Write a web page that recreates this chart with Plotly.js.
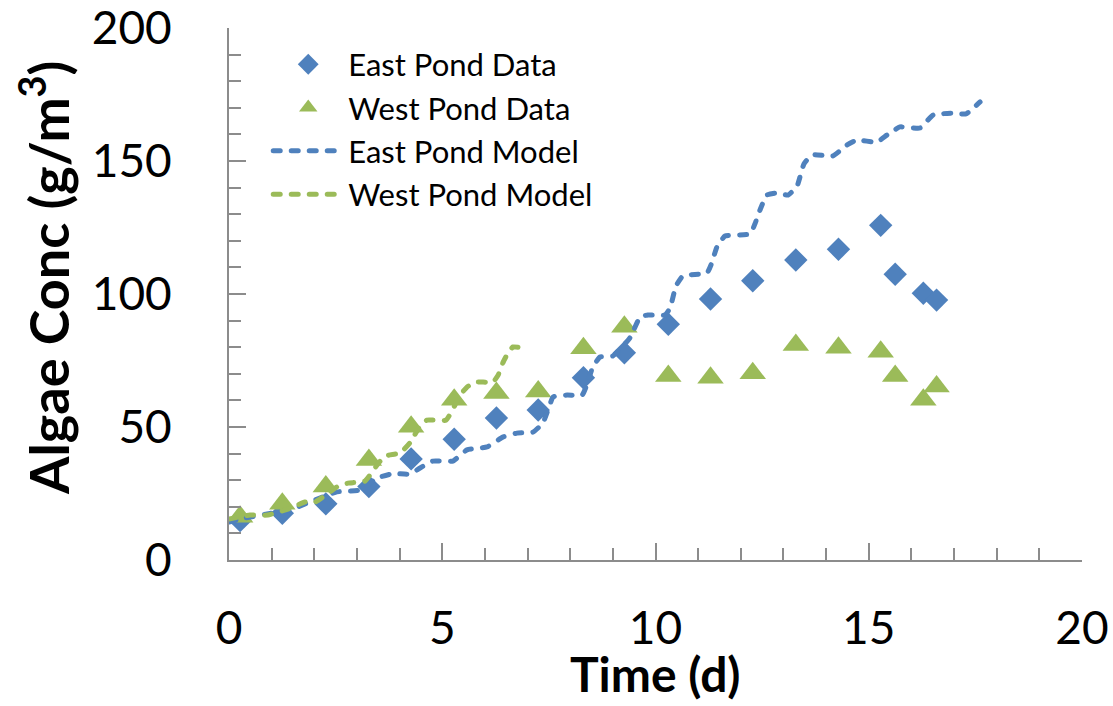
<!DOCTYPE html>
<html>
<head>
<meta charset="utf-8">
<script src="https://cdn.plot.ly/plotly-3.0.1.min.js"></script>
<style>
html,body{margin:0;padding:0;background:#fff;}
#chart{width:1113px;height:706px;}
.scatterlayer .js-line, .legend .js-line {stroke-linecap: round; stroke-linejoin: round;}
</style>
</head>
<body>
<div id="chart"></div>
<script>
// Measured data
const dataTime = [0.26, 1.25, 2.27, 3.28, 4.27, 5.28, 6.27, 7.25, 8.31, 9.27, 10.30, 11.29, 12.28, 13.29, 14.29, 15.28, 15.62, 16.28, 16.59];
const eastData = [14.8, 17.6, 21.1, 27.6, 38.0, 45.4, 53.4, 56.4, 68.5, 77.9, 88.6, 98.1, 105.0, 112.8, 116.8, 125.8, 107.4, 100.3, 97.7];
const westData = [16.3, 21.1, 27.6, 37.6, 50.1, 60.2, 62.8, 63.3, 79.6, 87.7, 69.2, 68.5, 70.2, 80.8, 79.8, 78.3, 69.2, 60.2, 65.2];

const eastModelTime = [0, 0.375, 1.03, 1.43, 1.83, 2.13, 2.53, 3.07, 3.47, 3.85, 4.24, 4.48, 4.78, 5.25, 5.58, 6.05, 6.42, 6.75, 7.13, 7.36, 7.48, 7.60, 7.93, 8.28, 8.39, 8.53, 8.70, 9.00, 9.40, 9.64, 9.82, 10.22, 10.34, 10.48, 10.64, 11.04, 11.21, 11.32, 11.44, 11.63, 12.22, 12.33, 12.45, 12.61, 12.85, 13.11, 13.32, 13.48, 13.67, 14.16, 14.49, 14.72, 15.19, 15.43, 15.73, 16.20, 16.51, 16.98, 17.28, 17.61];
const eastModel = [14.3, 15.8, 17.7, 18.8, 21.4, 23.3, 25.6, 26.3, 30.8, 32.5, 32.3, 34.6, 37.2, 37.2, 41.4, 42.5, 46.2, 47.7, 48.1, 51.5, 56.4, 61.3, 62.0, 62.0, 65.8, 72.6, 76.3, 76.7, 83.5, 91.4, 92.1, 92.1, 94.7, 103.0, 106.8, 107.5, 107.9, 111.7, 117.7, 121.8, 122.6, 126.3, 131.6, 137.2, 138.0, 137.2, 140.6, 148.9, 152.3, 151.9, 156.0, 157.9, 157.1, 159.8, 162.8, 162.4, 167.3, 168.0, 167.7, 172.2];

const westModelTime = [0, 0.49, 0.91, 1.43, 1.78, 2.02, 2.37, 2.56, 2.79, 3.19, 3.49, 3.66, 4.01, 4.24, 4.48, 4.64, 5.09, 5.42, 5.58, 5.77, 6.19, 6.31, 6.42, 6.54, 6.66, 6.89];
const westModel = [15.4, 16.9, 16.9, 19.4, 21.8, 21.8, 25.6, 27.8, 28.9, 29.7, 36.1, 39.1, 40.2, 44.0, 50.4, 52.6, 52.6, 62.0, 65.0, 66.9, 66.9, 69.5, 74.1, 77.8, 80.1, 79.7];

const seriesNames = ['East Pond Data', 'West Pond Data', 'East Pond Model', 'West Pond Model'];
const xTitle = 'Time (d)';
const yTitle = 'Algae Conc (g/m<sup>3</sup>)';

const BLUE = '#4F81BD';
const GREEN = '#9BBB59';
const AXIS = '#8c8c8c';
const FONT = 'Lato, "Open Sans", sans-serif';

const traces = [
  {x: dataTime, y: eastData, name: seriesNames[0], type: 'scatter', mode: 'markers',
   marker: {symbol: 'diamond', size: 18, color: BLUE}},
  {x: dataTime, y: westData, name: seriesNames[1], type: 'scatter', mode: 'markers',
   marker: {symbol: 'triangle-up', size: 23, color: GREEN}},
  {x: eastModelTime, y: eastModel, name: seriesNames[2], type: 'scatter', mode: 'lines',
   line: {color: BLUE, width: 5, dash: '7px,11px', shape: 'spline', smoothing: 0.4}},
  {x: westModelTime, y: westModel, name: seriesNames[3], type: 'scatter', mode: 'lines',
   line: {color: GREEN, width: 5, dash: '7px,11px', shape: 'spline', smoothing: 0.4}}
];

const layout = {
  width: 1113, height: 706,
  margin: {l: 229, r: 31, t: 28, b: 146},
  paper_bgcolor: '#fff', plot_bgcolor: '#fff',
  font: {family: FONT, color: '#000'},
  showlegend: true,
  legend: {
    x: 0.046, y: 0.982, xanchor: 'left', yanchor: 'top',
    bgcolor: 'rgba(0,0,0,0)', borderwidth: 0,
    font: {family: FONT, size: 31, color: '#000'},
    itemwidth: 70, tracegroupgap: 0
  },
  xaxis: {
    range: [0, 20], dtick: 5, tick0: 0,
    showgrid: false, zeroline: false,
    showline: true, linecolor: AXIS, linewidth: 2,
    ticks: 'inside', ticklen: 17, tickwidth: 2, tickcolor: AXIS,
    minor: {dtick: 1, ticks: 'inside', ticklen: 12, tickwidth: 2, tickcolor: AXIS, showgrid: false},
    tickfont: {family: FONT, size: 46, color: '#000'},
    ticklabelstandoff: 27, ticklabeloverflow: 'allow',
    fixedrange: true
  },
  yaxis: {
    range: [0, 200], dtick: 50, tick0: 0,
    showgrid: false, zeroline: false,
    showline: true, linecolor: AXIS, linewidth: 2,
    ticks: 'inside', ticklen: 17, tickwidth: 2, tickcolor: AXIS,
    minor: {dtick: 10, ticks: 'inside', ticklen: 12, tickwidth: 2, tickcolor: AXIS, showgrid: false},
    tickfont: {family: FONT, size: 46, color: '#000'},
    ticklabelstandoff: 46, ticklabeloverflow: 'allow',
    fixedrange: true
  },
  annotations: [{
    text: yTitle, xref: 'paper', yref: 'paper',
    x: -0.2157, y: 0.53, xanchor: 'center', yanchor: 'middle',
    textangle: -90, showarrow: false,
    font: {family: FONT, size: 54, color: '#000', weight: 'bold'}
  }, {
    text: xTitle, xref: 'paper', yref: 'paper',
    x: 0.5, y: -0.214, xanchor: 'center', yanchor: 'middle',
    showarrow: false,
    font: {family: FONT, size: 48, color: '#000', weight: 'bold'}
  }]
};

Plotly.newPlot('chart', traces, layout, {displayModeBar: false, staticPlot: true});
</script>
</body>
</html>
